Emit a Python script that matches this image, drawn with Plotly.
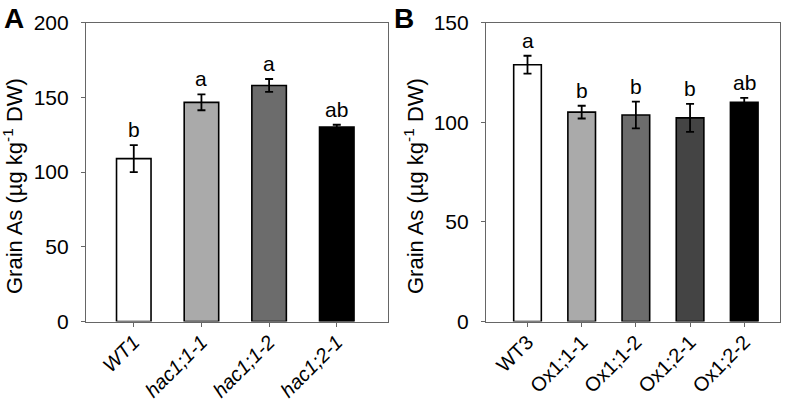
import plotly.graph_objects as go

cats_a = ["WT1", "hac1;1-1", "hac1;1-2", "hac1;2-1"]
vals_a = [109, 146.7, 158, 130.2]
errs_a = [9, 5.3, 4.3, 1.5]
sig_a = ["b", "a", "a", "ab"]
colors_a = ["#ffffff", "#aaaaaa", "#6c6c6c", "#000000"]

cats_b = ["WT3", "Ox1;1-1", "Ox1;1-2", "Ox1;2-1", "Ox1;2-2"]
vals_b = [128.9, 105.1, 103.7, 102.2, 110]
errs_b = [4.5, 3.2, 6.7, 7.0, 2.3]
sig_b = ["a", "b", "b", "b", "ab"]
colors_b = ["#ffffff", "#aaaaaa", "#6c6c6c", "#444444", "#000000"]

FONT = "Liberation Sans, Arial, sans-serif"
W, H = 788, 406

fig = go.Figure()

def add_panel(cats, vals, errs, cols, xa, ya):
    fig.add_trace(go.Bar(
        x=list(range(len(cats))), y=vals, width=0.51,
        marker=dict(color=cols, line=dict(color="#000000", width=1.6)),
        error_y=dict(type="data", array=errs, color="#000000", thickness=1.8, width=4),
        xaxis=xa, yaxis=ya, showlegend=False,
    ))

add_panel(cats_a, vals_a, errs_a, colors_a, "x", "y")
add_panel(cats_b, vals_b, errs_b, colors_b, "x2", "y2")

ann = []
for i, (v, e, s) in enumerate(zip(vals_a, errs_a, sig_a)):
    ann.append(dict(x=i, y=v + e, xref="x", yref="y", text=s, showarrow=False,
                    yanchor="bottom", yshift=2, font=dict(family=FONT, size=21, color="#000")))
for i, (v, e, s) in enumerate(zip(vals_b, errs_b, sig_b)):
    ann.append(dict(x=i, y=v + e, xref="x2", yref="y2", text=s, showarrow=False,
                    yanchor="bottom", yshift=2, font=dict(family=FONT, size=21, color="#000")))
ann.append(dict(x=2 / W, y=1 - 1 / H, xref="paper", yref="paper", text="<b>A</b>", showarrow=False,
                xanchor="left", yanchor="top", font=dict(family=FONT, size=28, color="#000")))
ann.append(dict(x=392 / W, y=1 - 1 / H, xref="paper", yref="paper", text="<b>B</b>", showarrow=False,
                xanchor="left", yanchor="top", font=dict(family=FONT, size=28, color="#000")))

ytitle = "Grain As (µg kg<sup>-1</sup> DW)"
for xc in (13 / W, 414 / W):
    ann.append(dict(x=xc, y=1 - 186 / H, xref="paper", yref="paper", text=ytitle, textangle=-90,
                    showarrow=False, xanchor="center", yanchor="middle",
                    font=dict(family=FONT, size=22, color="#000")))

axis_common = dict(showline=True, linecolor="#666666", linewidth=1.2, mirror=True,
                   ticks="outside", tickcolor="#666666", ticklen=4, showgrid=False,
                   zeroline=False, automargin=False)

fig.update_layout(
    width=W, height=H, margin=dict(l=0, r=0, t=0, b=0, autoexpand=False),
    plot_bgcolor="#ffffff", paper_bgcolor="#ffffff",
    font=dict(family=FONT, color="#000"),
    annotations=ann,
    xaxis=dict(domain=[86 / W, 388 / W], range=[-0.706, 3.757], tickmode="array",
               tickvals=list(range(len(cats_a))), ticktext=[f"<i>{c}</i>" for c in cats_a],
               tickangle=-45, tickfont=dict(size=20), ticklabelstandoff=-4,
               anchor="y", **axis_common),
    yaxis=dict(domain=[1 - 321.5 / H, 1 - 22.7 / H], range=[0, 200], tickvals=[0, 50, 100, 150, 200],
               tickfont=dict(size=21), ticklabelstandoff=8, anchor="x", **axis_common),
    xaxis2=dict(domain=[486 / W, 780 / W], range=[-0.766, 4.66], tickmode="array",
                tickvals=list(range(len(cats_b))), ticktext=cats_b,
                tickangle=-45, tickfont=dict(size=20), ticklabelstandoff=-4,
                anchor="y2", **axis_common),
    yaxis2=dict(domain=[1 - 321.5 / H, 1 - 22.7 / H], range=[0, 150], tickvals=[0, 50, 100, 150],
                tickfont=dict(size=21), ticklabelstandoff=8, anchor="x2", **axis_common),
)

fig.write_html("out.html", config={"displayModeBar": False},
               post_script="document.body.style.margin='0';document.body.style.overflow='hidden';")
